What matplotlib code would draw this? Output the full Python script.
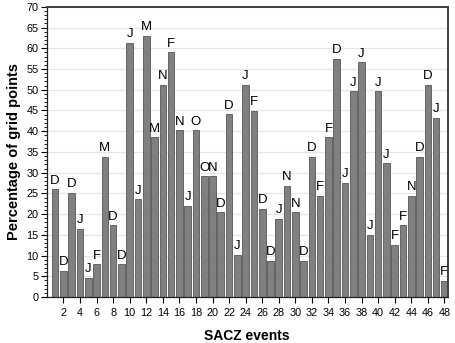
import matplotlib.pyplot as plt
from matplotlib.ticker import MultipleLocator

# SACZ events: percentage of grid points and month letter of each event
events = list(range(1, 49))
percent = [26.0, 6.3, 25.2, 16.5, 4.7, 7.9, 33.9, 17.3, 7.9, 61.4,
           23.6, 63.0, 38.6, 51.2, 59.1, 40.2, 22.0, 40.2, 29.1, 29.1,
           20.5, 44.1, 10.2, 51.2, 44.9, 21.3, 8.7, 18.9, 26.8, 20.5,
           8.7, 33.9, 24.4, 38.6, 57.5, 27.6, 49.6, 56.7, 15.0, 49.6,
           32.3, 12.6, 17.3, 24.4, 33.9, 51.2, 43.3, 3.9]
months = ["D", "D", "D", "J", "J", "F", "M", "D", "D", "J",
          "J", "M", "M", "N", "F", "N", "J", "O", "O", "N",
          "D", "D", "J", "J", "F", "D", "D", "J", "N", "N",
          "D", "D", "F", "F", "D", "J", "J", "J", "J", "J",
          "J", "F", "F", "N", "D", "D", "J", "F"]
xticks = list(range(2, 49, 2))

plt.rcParams['font.family'] = ['Liberation Sans', 'DejaVu Sans']

fig = plt.figure(figsize=(4.55, 3.43), dpi=100)
ax = fig.add_axes([0.103, 0.134, 0.881, 0.846])

ax.grid(axis='y', color='#e6e6e6', linewidth=0.9)
ax.set_axisbelow(True)
ax.bar(events, percent, width=0.8, color='#808080', edgecolor='#555555', linewidth=0.6)

# month letter above each bar
for x, v, m in zip(events, percent, months):
    ax.text(x, v + 0.6, m, ha='center', va='bottom', fontsize=9.5, zorder=5)

ax.set_xlim(0, 48.4)
ax.set_ylim(0, 70)
ax.set_xticks(xticks)
ax.yaxis.set_major_locator(MultipleLocator(5))
ax.yaxis.set_minor_locator(MultipleLocator(1))
ax.tick_params(axis='both', labelsize=7.8, direction='out', length=4, width=0.8, pad=2)
ax.tick_params(axis='x', pad=4)
ax.tick_params(axis='y', which='minor', length=2, width=0.6)

for s in ['top', 'right']:
    ax.spines[s].set_color('#404040')
    ax.spines[s].set_linewidth(1.4)
for s in ['left', 'bottom']:
    ax.spines[s].set_color('#202020')
    ax.spines[s].set_linewidth(0.9)

ax.set_xlabel('SACZ events', fontsize=10, fontweight='bold', labelpad=8)
ax.set_ylabel('Percentage of grid points', fontsize=10.5, fontweight='bold', labelpad=4)

fig.savefig('out.png', dpi=100)
